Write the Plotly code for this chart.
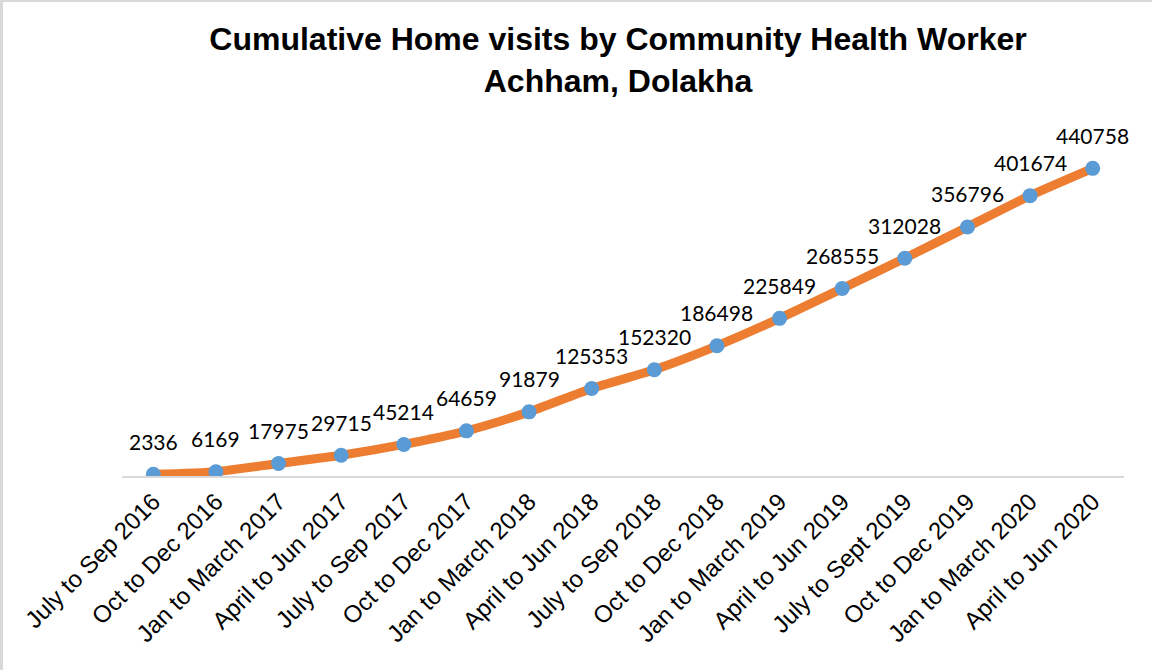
import plotly.graph_objects as go

periods = ["July to Sep 2016", "Oct to Dec 2016", "Jan to March 2017", "April to Jun 2017",
           "July to Sep 2017", "Oct to Dec 2017", "Jan to March 2018", "April to Jun 2018",
           "July to Sep 2018", "Oct to Dec 2018", "Jan to March 2019", "April to Jun 2019",
           "July to Sept 2019", "Oct to Dec 2019", "Jan to March 2020", "April to Jun 2020"]
visits = [2336, 6169, 17975, 29715, 45214, 64659, 91879, 125353,
          152320, 186498, 225849, 268555, 312028, 356796, 401674, 440758]

W, H = 1152, 670
L, R, T, B = 122, 28, 127, 194

fig = go.Figure()
fig.add_trace(go.Scatter(
    x=periods, y=visits, mode="lines+markers",
    line=dict(color="#ED7D31", width=9, shape="spline", smoothing=0.6),
    marker=dict(color="#5B9BD5", size=15),
    hoverinfo="x+y", showlegend=False,
))

for p, v in zip(periods, visits):
    fig.add_annotation(x=p, y=v, text=str(v), showarrow=False, yshift=33,
                       font=dict(family="Lato, Open Sans, sans-serif", size=21, color="#000000"))

pw = W - L - R
ph = H - T - B
def px_x(px):
    return (px - L) / pw
def px_y(py):
    return (H - B - py) / ph

# light frame on top and left edges
fig.add_shape(type="line", xref="paper", yref="paper",
              x0=px_x(0), x1=px_x(W), y0=px_y(1), y1=px_y(1),
              line=dict(color="#D9D9D9", width=2), layer="below")
fig.add_shape(type="line", xref="paper", yref="paper",
              x0=px_x(1.5), x1=px_x(1.5), y0=px_y(0), y1=px_y(H),
              line=dict(color="#D9D9D9", width=3), layer="below")

fig.update_layout(
    width=W, height=H,
    margin=dict(l=L, r=R, t=T, b=B, autoexpand=False),
    paper_bgcolor="white", plot_bgcolor="white",
    title=dict(text="<b>Cumulative Home visits by Community Health Worker<br>Achham, Dolakha</b>",
               x=px_x(618), xref="paper", xanchor="center",
               y=1 - 50 / H, yanchor="top",
               font=dict(family="Liberation Sans, Arial, sans-serif", size=32, color="#000000")),
    xaxis=dict(type="category", range=[-0.5, len(periods) - 0.5], tickangle=-45,
               showline=True, linecolor="#D9D9D9", linewidth=2, showgrid=False,
               ticks="", zeroline=False,
               tickfont=dict(family="Liberation Sans, Arial, sans-serif", size=24, color="#000000")),
    yaxis=dict(range=[0, 500000], visible=False, showgrid=False, zeroline=False),
)

fig.write_html("out.html", config={"displayModeBar": False},
               post_script="document.body.style.margin='0px';")
